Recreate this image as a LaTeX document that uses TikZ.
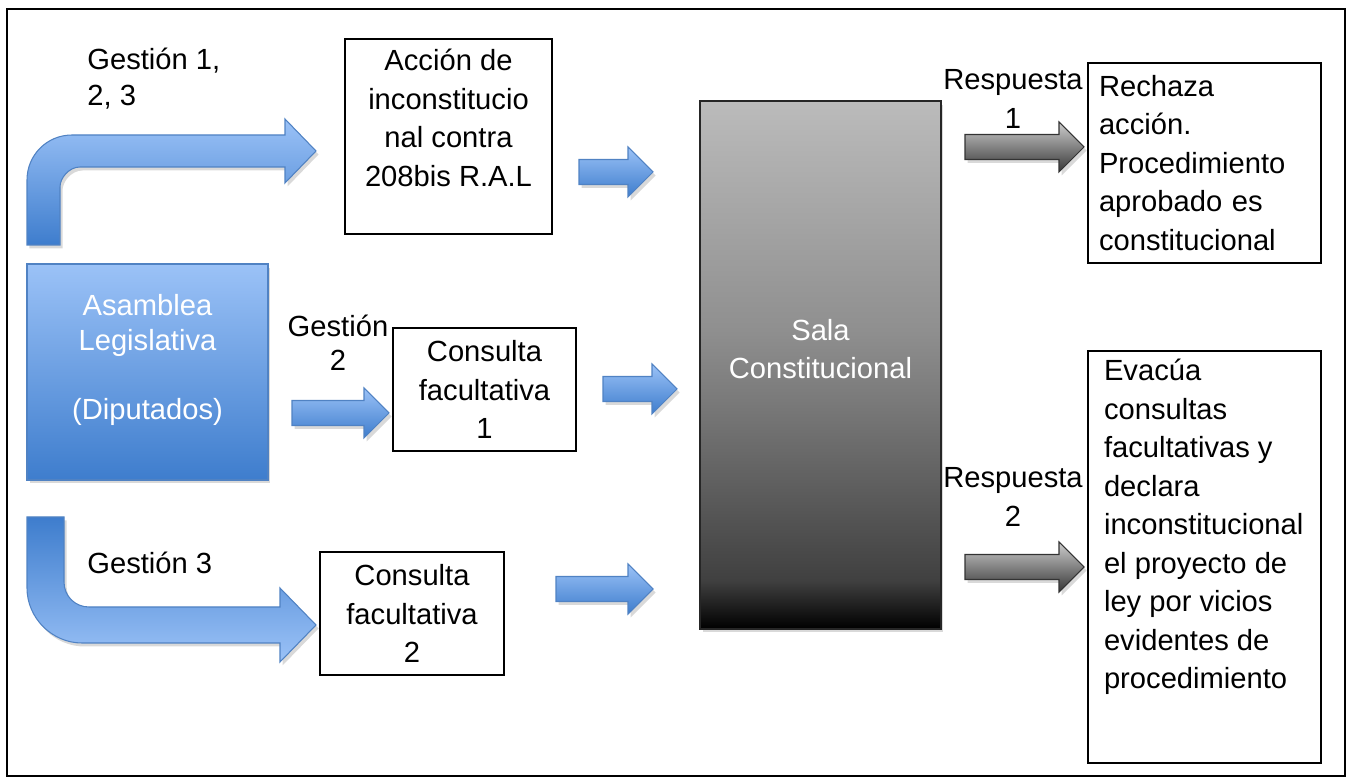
\documentclass[tikz,border=0pt]{standalone}
\usepackage{fontspec}
\setmainfont{Liberation Sans}
\usepackage{tikz}
\usetikzlibrary{calc,shadows}

\definecolor{azulclaro}{RGB}{155,194,247}
\definecolor{azuloscuro}{RGB}{62,125,205}
\definecolor{bordeazul}{RGB}{80,130,195}
\definecolor{gris1}{RGB}{64,64,64}
\definecolor{gris2}{RGB}{122,122,122}
\definecolor{gris3}{RGB}{143,143,143}
\definecolor{gris4}{RGB}{187,187,187}
\definecolor{gris5}{RGB}{205,205,205}
\definecolor{gris6}{RGB}{55,55,55}

\pgfdeclareverticalshading{salashade}{100bp}{color(0bp)=(black); color(25bp)=(black); color(29.6bp)=(gris1); color(46.7bp)=(gris2); color(53.3bp)=(gris3); color(75bp)=(gris4); color(100bp)=(gris4)}

% flecha de bloque entre dos coordenadas
\newcommand{\flecha}[3]{%
  \draw[#1] ($(#2)+(0,-12.5)$) -- ($(#3)+(-25,-12.5)$) -- ($(#3)+(-25,-25)$) -- (#3)
    -- ($(#3)+(-25,25)$) -- ($(#3)+(-25,12.5)$) -- ($(#2)+(0,12.5)$) -- cycle}

\begin{document}
\begin{tikzpicture}[x=0.02cm, y=-0.02cm, font=\fontsize{16.6}{21.9}\selectfont]
\tikzstyle{caja} = [draw, line width=0.9pt, inner sep=0pt]
\tikzstyle{sombra} = [drop shadow={opacity=0.3, shadow xshift=0.05cm, shadow yshift=-0.07cm}]
\tikzstyle{flechaazul} = [draw=bordeazul, line width=0.6pt, top color=azulclaro, bottom color=azuloscuro, sombra]
\tikzstyle{flechagris} = [draw=black!80, line width=0.6pt, top color=gris5, bottom color=gris6, sombra]
\tikzstyle{etiqueta} = [inner sep=0pt, align=center]

\useasboundingbox (0,0) rectangle (1350,780);
\draw[line width=1.2pt] (7,9) rectangle (1345,776);

% cajas
\node[caja, draw=bordeazul, top color=azulclaro, bottom color=azuloscuro, sombra, text=white, minimum width=4.82cm, minimum height=4.32cm] (asamblea) at (147.5,372) {\parbox[c][4.32cm][c]{4.8cm}{\centering\fontsize{16.6}{19.8}\selectfont Asamblea\\Legislativa\\[19.8pt](Diputados)\vspace{0.48cm}}};
\node[caja, minimum width=4.14cm, minimum height=3.9cm] (accion) at (448.5,136.5) {\parbox[c][3.9cm][t]{4.14cm}{\centering\vspace*{0.1cm}\strut Acción de\\inconstitucio\\nal contra\\208bis R.A.L}};
\node[caja, align=center, minimum width=3.66cm, minimum height=2.46cm] (consulta1) at (484.5,389.5) {Consulta\\facultativa\\1};
\node[caja, align=center, minimum width=3.68cm, minimum height=2.46cm] (consulta2) at (412,613.5) {Consulta\\facultativa\\2};
\node[caja, draw=black!85, shade, shading=salashade, sombra, text=white, minimum width=4.82cm, minimum height=10.56cm] (sala) at (820.5,365) {\parbox[c][10.56cm][c]{4.8cm}{\centering Sala\\Constitucional\vspace{0.64cm}}};
\node[caja, text width=4.22cm, align=left, minimum width=4.66cm, minimum height=4cm] (rechaza) at (1204.5,163) {Rechaza\\acción.\\Procedimiento\\aprobado es\\constitucional};
\node[caja, minimum width=4.66cm, minimum height=8.24cm] (evacua) at (1204.5,557) {\parbox[c][8.24cm][t]{4.02cm}{\raggedright\vspace*{0.06cm}\strut Evacúa\\consultas\\facultativas y\\declara\\inconstitucional\\el proyecto de\\ley por vicios\\evidentes de\\procedimiento}};

% etiquetas
\node[etiqueta, anchor=west, align=left, font=\fontsize{16.6}{20.5}\selectfont] (gestion123) at (87,79) {Gestión 1,\\2, 3};
\node[etiqueta, font=\fontsize{16.6}{19.5}\selectfont] (gestion2) at (338,343) {Gestión\\2};
\node[etiqueta, anchor=west] (gestion3) at (87,563) {Gestión 3};
\node[etiqueta] (respuesta1) at (1013,99) {Respuesta\\1};
\node[etiqueta] (respuesta2) at (1013,497) {Respuesta\\2};

% flechas rectas
\coordinate (a1s) at (579,172); \coordinate (a1e) at (653,172);
\coordinate (a2s) at (603,389); \coordinate (a2e) at (677,389);
\coordinate (a3s) at (556,589); \coordinate (a3e) at (653,589);
\coordinate (a4s) at (292,413); \coordinate (a4e) at (389,413);
\coordinate (r1s) at (965,147); \coordinate (r1e) at (1084,147);
\coordinate (r2s) at (965,567); \coordinate (r2e) at (1084,567);
\foreach \ini/\fin in {a1s/a1e, a2s/a2e, a3s/a3e, a4s/a4e}
\flecha{flechaazul}{\ini}{\fin};
\foreach \ini/\fin in {r1s/r1e, r2s/r2e}
\flecha{flechagris}{\ini}{\fin};

% flechas curvas
\draw[flechaazul] (27,245) -- (27,180) .. controls (27,155) and (47,135) .. (72,135) -- (285,135) -- (285,119) -- (316,151) -- (285,183) -- (285,167) -- (80,167) .. controls (69,167) and (60,178) .. (60,187) -- (60,245) -- cycle;
\draw[flechaazul, top color=azuloscuro, bottom color=azulclaro] (27,517) -- (27,588) .. controls (27,618) and (52,643) .. (82,643) -- (280,643) -- (280,662) -- (316,625) -- (280,588) -- (280,607) -- (89,607) .. controls (75,607) and (64,596) .. (64,582) -- (64,517) -- cycle;
\end{tikzpicture}
\end{document}
